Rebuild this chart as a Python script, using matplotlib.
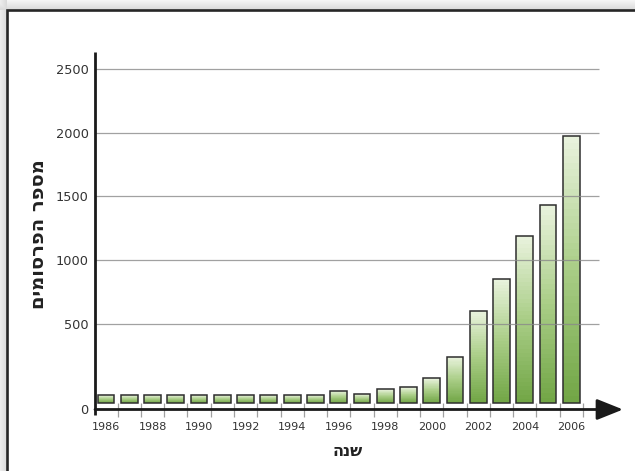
import numpy as np
import matplotlib.pyplot as plt
from matplotlib.colors import LinearSegmentedColormap

# publications per year
years = [1986, 1987, 1988, 1989, 1990, 1991, 1992, 1993, 1994, 1995, 1996,
         1997, 1998, 1999, 2000, 2001, 2002, 2003, 2004, 2005, 2006]
publications = [85, 85, 85, 85, 85, 85, 85, 85, 85, 85, 109,
                91, 118, 130, 183, 310, 604, 857, 1191, 1433, 1973]

y_ticks = [0, 500, 1000, 1500, 2000, 2500]
x_tick_years = [1986, 1988, 1990, 1992, 1994, 1996, 1998, 2000, 2002, 2004, 2006]
ylabel_text = 'מספר הפרסומים'
xlabel_text = 'שנה'

plt.rcParams['font.family'] = ['DejaVu Sans']

W, H = 635, 471
fig = plt.figure(figsize=(W / 100, H / 100), dpi=100)

# frame with soft shadow around it
bg = fig.add_axes([0, 0, 1, 1], zorder=-5)
yy, xx = np.mgrid[0:H, 0:W]
left, top = 7, 10
dist = np.minimum(np.where(xx < left, left - xx, 99), np.where(yy < top, top - yy, 99))
shade = np.where(dist == 99, 1.0, 0.84 + 0.012 * dist)
bg.imshow(shade, cmap='gray', vmin=0, vmax=1, extent=(0, W, H, 0), aspect='auto',
          interpolation='bilinear')
bg.plot([left, left, W + 5], [H + 5, top, top], color='#262626', lw=1.9,
        solid_joinstyle='miter')
bg.set_xlim(0, W)
bg.set_ylim(H, 0)
bg.axis('off')

# y axis: 0..500 is stretched compared with the range above 500
def fwd(v):
    v = np.asarray(v, dtype=float)
    return np.where(v <= 500, v * 85.2 / 500, 85.2 + (v - 500) * 63.9 / 500)

def inv(t):
    t = np.asarray(t, dtype=float)
    return np.where(t <= 85.2, t * 500 / 85.2, 500 + (t - 85.2) * 500 / 63.9)

x0, x1, y0, y1 = 95, 623, 409.5, 52
ax = fig.add_axes([x0 / W, 1 - y0 / H, (x1 - x0) / W, (y0 - y1) / H])
ax.set_yscale('function', functions=(fwd, inv))
xmin, xmax = 1985.527, 2008.22
ax.set_xlim(xmin, xmax)
ax.set_ylim(0, 2630)
ax.patch.set_alpha(0)

for s in ['top', 'right', 'bottom', 'left']:
    ax.spines[s].set_visible(False)
# vertical axis line, running a little below the x axis
ax.plot([0, 0], [-0.016, 1], transform=ax.transAxes, color='#1a1a1a', lw=2,
        clip_on=False, solid_capstyle='butt', zorder=5)

# bars with vertical gradient
cmap = LinearSegmentedColormap.from_list('grn', ['#72a646', '#a9cd86', '#e8f2dc'])
bar_floor = 38
bw = 0.72
n = 40
for x, v in zip(years, publications):
    t = np.linspace(fwd(bar_floor), fwd(v), n + 1)
    edges = inv(t)
    for k in range(n):
        ax.bar(x, edges[k + 1] - edges[k], bottom=edges[k], width=bw,
               color=cmap(k / (n - 1)), linewidth=0, antialiased=False, zorder=2)
    ax.bar(x, v - bar_floor, bottom=bar_floor, width=bw, fill=False,
           edgecolor='#2e2e2e', linewidth=1.1, zorder=3)

# horizontal grid
ax.hlines(y_ticks[1:], xmin, 2007.18, color='#8a8a8a', lw=0.9, alpha=0.8, zorder=4)

# x axis arrow
ax.annotate('', xy=(xmax, 0), xytext=(xmin, 0),
            arrowprops=dict(arrowstyle='-|>,head_length=0.8,head_width=0.32',
                            lw=2, color='#1a1a1a', mutation_scale=20,
                            shrinkA=0, shrinkB=0),
            annotation_clip=False, zorder=5)

ax.set_yticks(y_ticks)
ax.set_yticklabels([str(v) for v in y_ticks])
ax.tick_params(axis='y', length=0, pad=4.5, labelsize=9.3, labelcolor='#333333')
ax.set_xticks(x_tick_years)
ax.set_xticklabels([str(v) for v in x_tick_years])
ax.set_xticks([y + 0.5 for y in years], minor=True)
ax.tick_params(axis='x', which='major', length=0, pad=9, labelsize=8, labelcolor='#333333')
ax.tick_params(axis='x', which='minor', direction='inout', length=9.4, width=0.9,
               color='#a0a0a0')

# Hebrew labels are reversed for left-to-right glyph layout
fig.text(348 / W, 1 - 452 / H, xlabel_text[::-1], ha='center', va='center',
         fontsize=11.5, fontweight='bold', color='#222222')
fig.text(39 / W, 1 - 234 / H, ylabel_text[::-1], ha='center', va='center',
         rotation=90, fontsize=14, fontweight='bold', color='#222222')

fig.savefig('out.png', dpi=100)
